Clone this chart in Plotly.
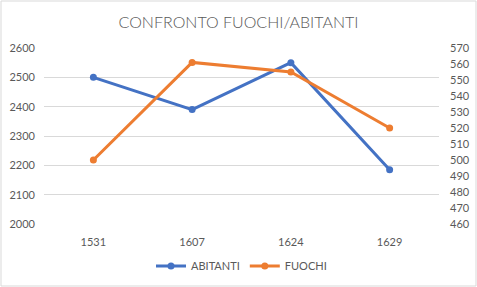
import plotly.graph_objects as go

years = ["1531", "1607", "1624", "1629"]
abitanti = [2500, 2390, 2550, 2185]
fuochi = [500, 561, 555, 520]

W, H = 477, 287
ml, mr, mt, mb = 44, 38, 48, 63
pw, ph = W - ml - mr, H - mt - mb

fig = go.Figure()
fig.add_trace(go.Scatter(x=years, y=abitanti, name="ABITANTI", mode="lines+markers",
                         line=dict(color="#4472C4", width=3), marker=dict(size=7, color="#4472C4")))
fig.add_trace(go.Scatter(x=years, y=fuochi, name="FUOCHI", mode="lines+markers", yaxis="y2",
                         line=dict(color="#ED7D31", width=3), marker=dict(size=7, color="#ED7D31")))

font = "Lato, Open Sans, sans-serif"
fig.update_layout(
    width=W, height=H,
    margin=dict(l=ml, r=mr, t=mt, b=mb, autoexpand=False),
    paper_bgcolor="white", plot_bgcolor="white",
    font=dict(family=font, color="#595959", size=11),
    title=dict(text="CONFRONTO FUOCHI/ABITANTI", x=0.5, xanchor="center", y=1 - 22 / H, yanchor="middle",
               font=dict(size=16, color="#595959", family=font, weight=300)),
    xaxis=dict(range=[-0.5, 3.5], showgrid=False, showline=False, zeroline=False, ticks="",
               tickfont=dict(size=11), ticklabelstandoff=10, automargin=False),
    yaxis=dict(range=[2000, 2600], dtick=100, showgrid=True, gridcolor="#D9D9D9", gridwidth=1,
               zeroline=False, showline=False, ticks="", tickfont=dict(size=11), ticklabelstandoff=8,
               automargin=False),
    yaxis2=dict(range=[460, 570], dtick=10, overlaying="y", side="right", showgrid=False,
                zeroline=False, showline=False, ticks="", tickfont=dict(size=11), ticklabelstandoff=10,
                automargin=False),
    legend=dict(orientation="h", x=0.5, xanchor="center", y=-(266 - 224) / ph, yanchor="middle",
                font=dict(size=11), itemwidth=30),
    shapes=[dict(type="rect", xref="paper", yref="paper",
                 x0=-(ml - 1) / pw, x1=1 + (mr - 1) / pw, y0=-(mb - 1) / ph, y1=1 + (mt - 1) / ph,
                 line=dict(color="#D9D9D9", width=1), layer="below")],
)
fig.write_html("out.html")
